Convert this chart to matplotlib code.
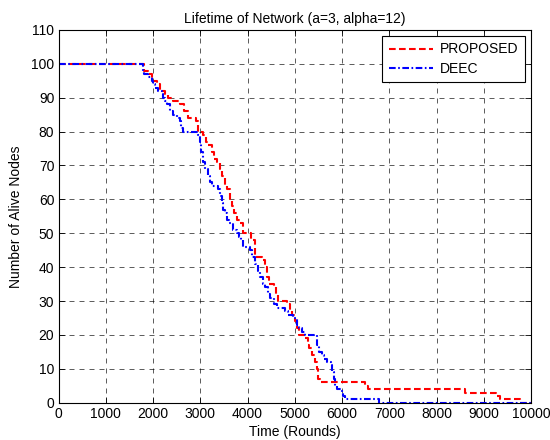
import matplotlib
matplotlib.use("Agg")
import matplotlib.pyplot as plt

plt.rcParams['font.family'] = ['Liberation Sans', 'DejaVu Sans']

# Alive nodes per protocol: round at which the count changes, and the new count
proposed_rounds = [0, 1800, 1900, 1980, 2080, 2150, 2250, 2320, 2420, 2570, 2650,
                   2750, 2920, 2960, 3060, 3120, 3170, 3250, 3300, 3350, 3420,
                   3470, 3520, 3560, 3620, 3670, 3720, 3770, 3850, 3900, 4080,
                   4160, 4300, 4370, 4420, 4460, 4550, 4600, 4650, 4830, 4900,
                   4950, 5010, 5050, 5080, 5220, 5270, 5300, 5360, 5430, 5460,
                   5500, 5530, 6480, 6560, 8600, 9260, 9340, 9760, 10000]
proposed_alive = [100, 98, 97, 95, 94, 92, 91, 90, 89, 88, 86,
                  84, 83, 80, 79, 77, 76, 74, 72, 71, 69,
                  67, 64, 63, 60, 58, 56, 54, 53, 50, 48,
                  43, 42, 40, 37, 35, 34, 32, 30, 29, 27,
                  26, 24, 22, 20, 19, 17, 16, 14, 12, 10,
                  7, 6, 5, 4, 3, 2, 1, 0, 0]

deec_rounds = [0, 1780, 1800, 1900, 1970, 2000, 2040, 2100, 2180, 2220, 2250,
               2300, 2360, 2420, 2500, 2570, 2600, 2640, 2950, 2990, 3020,
               3060, 3100, 3170, 3210, 3240, 3380, 3420, 3450, 3490, 3520,
               3560, 3600, 3700, 3780, 3810, 3860, 3910, 4050, 4100, 4160,
               4220, 4260, 4320, 4370, 4430, 4480, 4550, 4620, 4800, 4860,
               4970, 5040, 5100, 5150, 5220, 5460, 5520, 5570, 5620, 5680,
               5760, 5780, 5820, 5860, 5890, 5990, 6030, 6060, 6790, 10000]
deec_alive = [100, 98, 97, 96, 95, 94, 93, 92, 91, 90, 89,
              88, 86, 85, 84, 83, 81, 80, 79, 77, 74,
              71, 69, 67, 65, 64, 63, 61, 59, 57, 56,
              54, 53, 51, 50, 49, 48, 46, 45, 43, 41,
              39, 37, 35, 34, 32, 31, 29, 28, 27, 26,
              25, 23, 22, 21, 20, 17, 15, 14, 13, 12,
              11, 9, 7, 5, 4, 3, 2, 1, 0, 0]

x_ticks = list(range(0, 10001, 1000))
y_ticks = list(range(0, 111, 10))

fig = plt.figure(figsize=(5.5, 4.4), dpi=100)
ax = fig.add_axes([0.1064, 0.0848, 0.8591, 0.8472])

ax.plot(proposed_rounds, proposed_alive, drawstyle='steps-post',
        color='red', linestyle='--', linewidth=1.5, label='PROPOSED',
        dashes=(3.2, 1.6))
ax.plot(deec_rounds, deec_alive, drawstyle='steps-post',
        color='blue', linestyle='-.', linewidth=1.5, label='DEEC',
        dashes=(3.2, 1.2, 0.8, 1.2))

ax.set_xlim(0, 10000)
ax.set_ylim(0, 110)
ax.set_xticks(x_ticks)
ax.set_yticks(y_ticks)
ax.tick_params(direction='in', top=True, right=True, labelsize=10,
               length=4, width=0.6, pad=3)
ax.grid(True, color='black', linestyle=(0, (6, 6)), linewidth=0.6, alpha=0.75)
for s in ax.spines.values():
    s.set_linewidth(0.8)

ax.set_title('Lifetime of Network (a=3, alpha=12)', fontsize=10, pad=5)
ax.set_xlabel('Time (Rounds)', fontsize=10, labelpad=3)
ax.set_ylabel('Number of Alive Nodes', fontsize=10, labelpad=6)

leg = ax.legend(loc='upper right', fontsize=10, fancybox=False,
                edgecolor='black', framealpha=1, handlelength=3.2,
                handletextpad=0.5, borderaxespad=0.45, labelspacing=0.4,
                borderpad=0.45)
leg.get_frame().set_linewidth(0.8)

fig.savefig('out.png', dpi=100)
